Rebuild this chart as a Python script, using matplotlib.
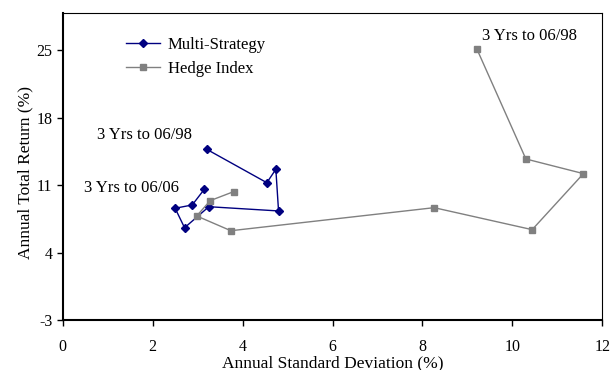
import matplotlib.pyplot as plt

plt.rcParams['font.family'] = ['Liberation Serif', 'DejaVu Serif']
plt.rcParams['axes.unicode_minus'] = False

# Multi-Strategy: rolling 3-year windows, 06/98 -> 06/06
ms_sd = [3.20, 4.54, 4.74, 4.80, 3.25, 2.71, 2.50, 2.88, 3.15]
ms_ret = [14.71, 11.24, 12.63, 8.31, 8.75, 6.57, 8.59, 8.93, 10.56]

# Hedge Index
hi_sd = [9.21, 10.30, 11.58, 10.44, 8.26, 3.74, 2.98, 3.28, 3.80]
hi_ret = [25.11, 13.70, 12.18, 6.37, 8.65, 6.26, 7.79, 9.38, 10.31]

xticks = [0, 2, 4, 6, 8, 10, 12]
yticks = [-3, 4, 11, 18, 25]

fig = plt.figure(figsize=(6.11, 3.70), dpi=100)
ax = fig.add_axes([0.1026, 0.1351, 0.8832, 0.8306])

ax.plot(ms_sd, ms_ret, color='#000080', marker='D', markersize=4.5, lw=1.0,
        label='Multi-Strategy')
ax.plot(hi_sd, hi_ret, color='#808080', marker='s', markersize=4.5, lw=1.0,
        label='Hedge Index')

ax.text(0.756, 16.19, '3 Yrs to 06/98', fontsize=12, va='center', ha='left')
ax.text(0.48, 10.69, '3 Yrs to 06/06', fontsize=12, va='center', ha='left')
ax.text(9.32, 26.46, '3 Yrs to 06/98', fontsize=12, va='center', ha='left')

ax.set_xlim(0, 12)
ax.set_ylim(-3, 28.87)
ax.set_xticks(xticks)
ax.set_yticks(yticks)
ax.tick_params(direction='out', length=4, labelsize=11.5, width=1)
ax.tick_params(axis='x', pad=10)
ax.set_xlabel('Annual Standard Deviation (%)', fontsize=12.5, labelpad=0)
ax.set_ylabel('Annual Total Return (%)', fontsize=12.5, labelpad=2, y=0.48)

for s in ['left', 'bottom']:
    ax.spines[s].set_linewidth(1.5)
for s in ['top', 'right']:
    ax.spines[s].set_linewidth(0.8)

ax.legend(loc='upper left', bbox_to_anchor=(0.09, 0.97), frameon=False,
          fontsize=12, handlelength=2.0, handletextpad=0.5, labelspacing=0.5)

fig.savefig('out.png', dpi=100)
